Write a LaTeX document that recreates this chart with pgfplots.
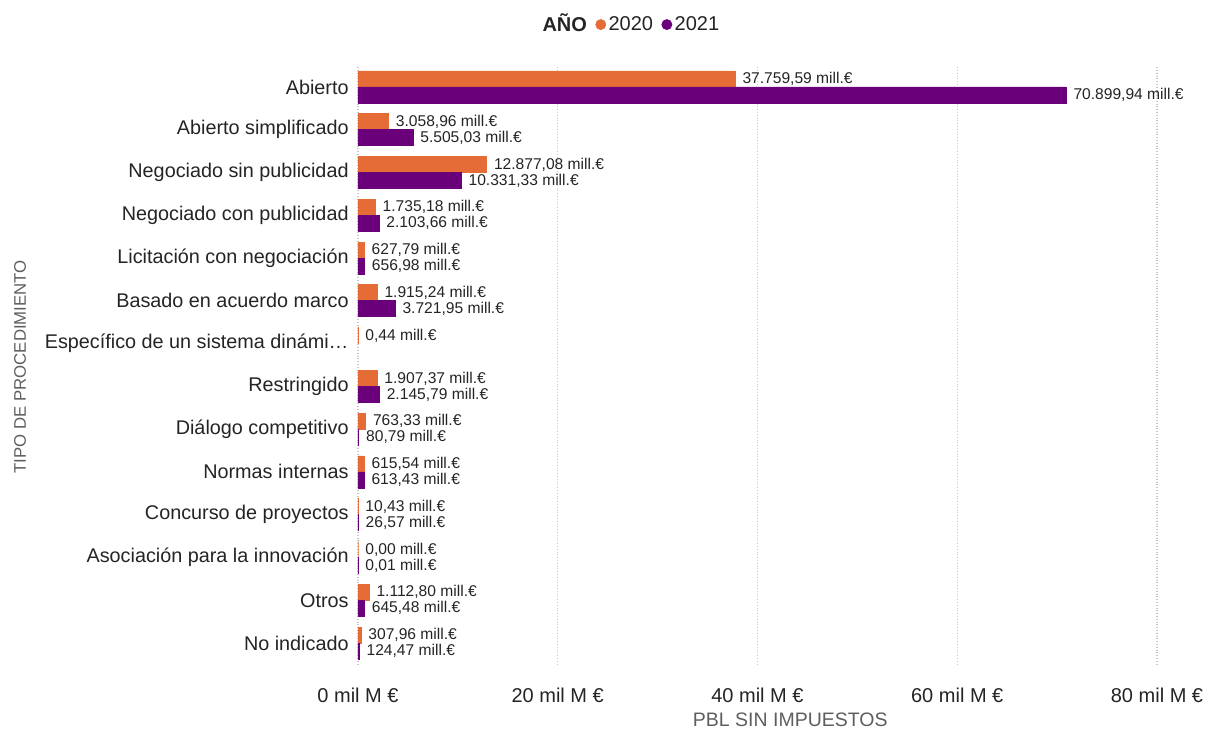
\documentclass[border=0pt]{standalone}
\usepackage{pgfplots}
\pgfplotsset{compat=1.18}
\usepackage{pgfplotstable}
\usepackage{fontspec}
\setmainfont{Liberation Sans}
\definecolor{cOr}{HTML}{E66C37}
\definecolor{cPu}{HTML}{6B007B}
\definecolor{cTx}{HTML}{252423}
\definecolor{cGr}{HTML}{605E5C}

\pgfplotstableread[col sep=semicolon]{
x;y;lab
37759.59;13;37.759,59 mill.€
3058.96;12;3.058,96 mill.€
12877.08;11;12.877,08 mill.€
1735.18;10;1.735,18 mill.€
627.79;9;627,79 mill.€
1915.24;8;1.915,24 mill.€
0.44;7;0,44 mill.€
1907.37;6;1.907,37 mill.€
763.33;5;763,33 mill.€
615.54;4;615,54 mill.€
10.43;3;10,43 mill.€
0.00;2;0,00 mill.€
1112.80;1;1.112,80 mill.€
307.96;0;307,96 mill.€
}\dataA

\pgfplotstableread[col sep=semicolon]{
x;y;lab
70899.94;13;70.899,94 mill.€
5505.03;12;5.505,03 mill.€
10331.33;11;10.331,33 mill.€
2103.66;10;2.103,66 mill.€
656.98;9;656,98 mill.€
3721.95;8;3.721,95 mill.€
2145.79;6;2.145,79 mill.€
80.79;5;80,79 mill.€
613.43;4;613,43 mill.€
26.57;3;26,57 mill.€
0.01;2;0,01 mill.€
645.48;1;645,48 mill.€
124.47;0;124,47 mill.€
}\dataB

\begin{document}
\begin{tikzpicture}
\useasboundingbox (-179pt,-34.3pt) rectangle (424.5pt,332.2pt);
\begin{axis}[
  scale only axis, width=399.5pt, height=299.4pt,
  xbar, bar width=8pt,
  xmin=0, xmax=80000, ymin=-0.5, ymax=13.5,
  clip=false,
  axis line style={draw=none},
  major tick length=0pt,
  xtick={0,20000,40000,60000,80000},
  xticklabels={{0 mil M €},{20 mil M €},{40 mil M €},{60 mil M €},{80 mil M €}},
  xmajorgrids,
  grid style={densely dotted, black!22, line width=0.6pt},
  ytick={0,...,13},
  yticklabels={{No indicado},{Otros},{Asociación para la innovación},{Concurso de proyectos},{Normas internas},{Diálogo competitivo},{Restringido},{Específico de un sistema dinámi…},{Basado en acuerdo marco},{Licitación con negociación},{Negociado con publicidad},{Negociado sin publicidad},{Abierto simplificado},{Abierto}},
  tick label style={font=\fontsize{10}{12}\selectfont, text=cTx},
  xticklabel style={anchor=center, yshift=-15.3pt},
  yticklabel style={anchor=east, inner sep=0pt, xshift=-4.5pt, font=\fontsize{9.9}{12}\selectfont},
  xlabel={PBL SIN IMPUESTOS},
  xlabel style={at={(axis description cs:0.541,-0.092)}, anchor=center, font=\fontsize{9.75}{11}\selectfont, text=cGr},
  ylabel={TIPO DE PROCEDIMIENTO},
  ylabel style={at={(axis description cs:-0.423,0.497)}, anchor=center, font=\fontsize{8.4}{10}\selectfont, text=cGr},
  nodes near coords,
  point meta=explicit symbolic,
  every node near coord/.append style={font=\fontsize{7.8}{9}\selectfont, text=cTx, anchor=west, inner sep=0pt, xshift=3.5pt},
  legend columns=-1,
  legend style={at={(axis description cs:0.34,1.0685)}, anchor=center, draw=none, fill=none,
    font=\fontsize{10}{12}\selectfont, text=cTx, inner sep=0pt,
    nodes={inner sep=0pt},
    /tikz/every odd column/.append style={column sep=1.2pt},
    /tikz/every even column/.append style={column sep=4.2pt}},
]
\addlegendimage{empty legend}
\addlegendentry{\textbf{AÑO}}
\addplot[fill=cOr, draw=cOr, line width=0.4pt, bar shift=4pt,
  legend image code/.code={\fill[cOr] (2.5pt,0pt) circle (2.5pt);}]
  table[x=x, y=y, meta=lab] {\dataA};
\addlegendentry{2020}
\addplot[fill=cPu, draw=cPu, line width=0.4pt, bar shift=-4pt,
  legend image code/.code={\fill[cPu] (2.5pt,0pt) circle (2.5pt);}]
  table[x=x, y=y, meta=lab] {\dataB};
\addlegendentry{2021}
\end{axis}
\end{tikzpicture}
\end{document}
